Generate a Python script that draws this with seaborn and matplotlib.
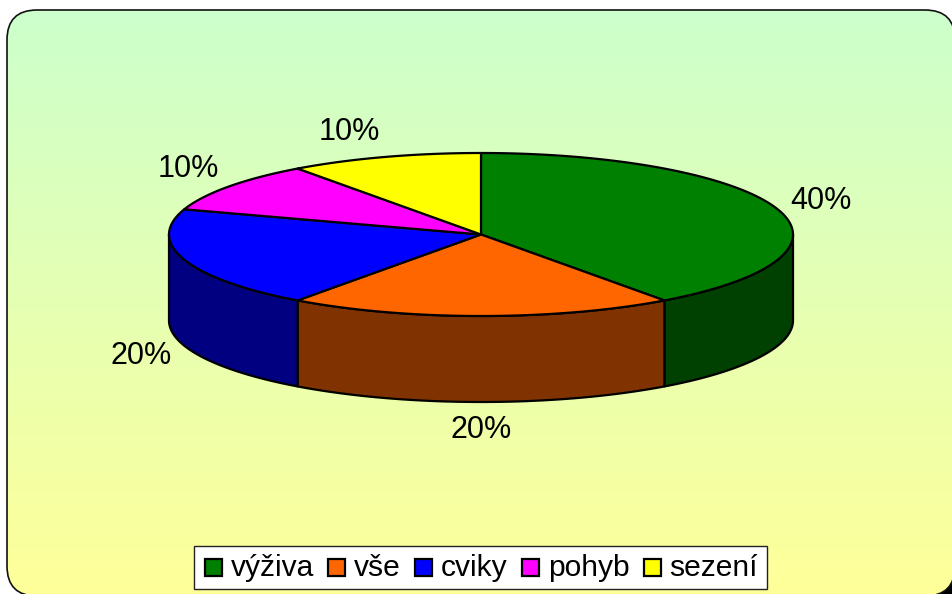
import numpy as np
import seaborn as sns
import matplotlib.pyplot as plt
from matplotlib.patches import Polygon, FancyBboxPatch, Rectangle

labels = ["výživa", "vše", "cviky", "pohyb", "sezení"]
shares = [40, 20, 20, 10, 10]
pct_labels = ["40%", "20%", "20%", "10%", "10%"]
top_colors = ["#008000", "#FF6600", "#0000FF", "#FF00FF", "#FFFF00"]
side_colors = ["#004000", "#803300", "#000080", "#800080", "#808000"]

sns.set_style("white")
plt.rcParams["font.family"] = ["Liberation Sans", "DejaVu Sans"]

fig = plt.figure(figsize=(9.52, 5.94), dpi=100)
ax = fig.add_axes([0, 0, 1, 1])
ax.set_xlim(0, 952)
ax.set_ylim(594, 0)
ax.axis("off")

# dark shadow peeking out at the bottom right corner
ax.add_patch(Rectangle((900, 540), 60, 60, facecolor="black", edgecolor="none", zorder=0))

# background panel with gradient
panel = FancyBboxPatch((7, 10), 948, 586, boxstyle="round,pad=0,rounding_size=30",
                       facecolor="white", edgecolor="none", zorder=1)
ax.add_patch(panel)
grad = np.linspace(0, 1, 256)[:, None, None]
c1 = np.array([204, 255, 204]) / 255
c2 = np.array([255, 255, 153]) / 255
img = ax.imshow(c1 + (c2 - c1) * grad, extent=(7, 955, 596, 10), aspect="auto", zorder=1.5)
img.set_clip_path(panel)
# outline as flattened polygon, an unfilled curved path gets mangled at the canvas edge
outline = panel.get_path().to_polygons(closed_only=False)[0]
ax.add_patch(Polygon(outline, fill=False, edgecolor="#111111", linewidth=1.2, zorder=2))
ax.set_xlim(0, 952)
ax.set_ylim(594, 0)

# pie geometry
cx, cy, rx, ry, depth = 481, 234.5, 312, 81.5, 86


def rim(a0, a1):
    t = np.radians(np.linspace(a0, a1, 200))
    return cx + rx * np.sin(t), cy - ry * np.cos(t)


edges = np.cumsum([0] + shares) * 3.6

# side walls only on the visible front half
for i in range(len(shares)):
    a0, a1 = edges[i], edges[i + 1]
    a0v, a1v = max(a0, 90), min(a1, 270)
    if a0v >= a1v:
        continue
    x, y = rim(a0v, a1v)
    pts = np.r_[np.c_[x, y], np.c_[x[::-1], y[::-1] + depth]]
    ax.add_patch(Polygon(pts, facecolor=side_colors[i], edgecolor="black", linewidth=1.6,
                         joinstyle="round", zorder=3))

for i in range(len(shares)):
    x, y = rim(edges[i], edges[i + 1])
    pts = np.r_[[[cx, cy]], np.c_[x, y]]
    ax.add_patch(Polygon(pts, facecolor=top_colors[i], edgecolor="black", linewidth=1.6,
                         joinstyle="round", zorder=4))

# percentage labels
label_pos = [(821, 201), (481, 430), (141, 356), (188, 169), (349, 132)]
for txt, (lx, ly) in zip(pct_labels, label_pos):
    ax.text(lx, ly, txt, fontsize=22, ha="center", va="center", color="black", zorder=5)

# legend
ax.add_patch(Rectangle((194, 546), 573, 43, facecolor="white", edgecolor="#222222",
                       linewidth=1.0, zorder=5))
swatch_x = [205, 328, 415, 522, 644]
text_x = [231, 354, 441, 548, 669]
for i, name in enumerate(labels):
    ax.add_patch(Rectangle((swatch_x[i], 559), 17, 17, facecolor=top_colors[i],
                           edgecolor="black", linewidth=1.6, zorder=6))
    ax.text(text_x[i], 568, name, fontsize=21.6, ha="left", va="center", color="black", zorder=6)

fig.savefig("out.png", dpi=100, facecolor="white")
